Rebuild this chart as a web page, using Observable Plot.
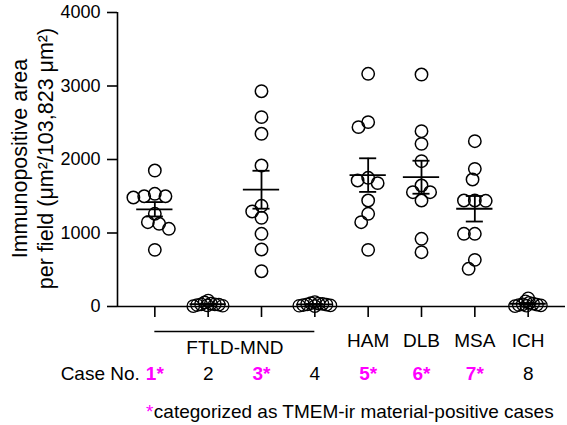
<!DOCTYPE html>
<html>
<head>
<meta charset="utf-8">
<script src="https://cdn.jsdelivr.net/npm/d3@7"></script>
<script src="https://cdn.jsdelivr.net/npm/@observablehq/plot@0.6"></script>
<style>
  html, body { margin: 0; padding: 0; background: #fff; }
</style>
</head>
<body>
<div id="chart"></div>
<script>
// ---- data ----
const cases = ["1", "2", "3", "4", "5", "6", "7", "8"];
const groupLabels = ["FTLD-MND", "FTLD-MND", "FTLD-MND", "FTLD-MND", "HAM", "DLB", "MSA", "ICH"];
const positiveCases = ["1", "3", "5", "6", "7"];
const case1 = [1850, 1533, 1500, 1500, 1483, 1261, 1147, 1125, 1057, 771];
const case2 = [80, 55, 40, 30, 30, 25, 20, 15, 10, 5];
const case3 = [2929, 2576, 2350, 1918, 1370, 1293, 1207, 989, 776, 480];
const case4 = [60, 45, 40, 35, 30, 25, 20, 15, 10, 5];
const case5 = [3166, 2508, 2440, 1751, 1714, 1678, 1442, 1261, 1147, 771];
const case6 = [3156, 2385, 2213, 1977, 1646, 1555, 1555, 1442, 921, 739];
const case7 = [2249, 1873, 1728, 1442, 1442, 1438, 989, 989, 635, 513];
const case8 = [110, 70, 50, 40, 30, 25, 20, 15, 10, 5];
const yTicks = [0, 1000, 2000, 3000, 4000];
const yLabel = "Immunopositive area\nper field (μm²/103,823 μm²)";
const caseNoLabel = "Case No.";
const footnote = "categorized as TMEM-ir material-positive cases";

// ---- derived tables ----
const series = [case1, case2, case3, case4, case5, case6, case7, case8];
const rows = cases.flatMap((c, i) => series[i].map(v => ({case: c, value: v})));
const isPos = c => positiveCases.includes(c);
const stats = cases.map((c, i) => {
  const v = series[i];
  const m = d3.mean(v);
  const se = d3.deviation(v) / Math.sqrt(v.length);
  return {case: c, mean: m, lo: m - se, hi: m + se};
});
const caseInfo = cases.map((c, i) => ({case: c, group: groupLabels[i], pos: isPos(c)}));
const ftldIdx = groupLabels.map((g, i) => g === "FTLD-MND" ? i : -1).filter(i => i >= 0);
const singleGroups = caseInfo.filter(d => d.group !== "FTLD-MND");

// ---- layout ----
const W = 567, H = 425;
const ml = 117, mr = 2, mt = 12, mb = 119;
const po = 0.2;
const step = (W - ml - mr) / (cases.length + 2 * po);
const frameLeft1 = ml + po * step;
const first = () => cases[0];
const font = "Arial, 'Liberation Sans', Helvetica, sans-serif";
const magenta = "#ff00ff";
const dotR = 6.2;
// near-zero groups overlap heavily: lay them out with a small dodge radius,
// but draw the same size ring
const clusterR = 2;
const bigRing = {
  draw(ctx, size) {
    const rr = Math.sqrt(size / Math.PI) * (dotR / clusterR);
    ctx.moveTo(rr, 0);
    ctx.arc(0, 0, rr, 0, 2 * Math.PI);
  }
};

const chart = Plot.plot({
  width: W,
  height: H,
  marginLeft: ml,
  marginRight: mr,
  marginTop: mt,
  marginBottom: mb,
  style: {fontFamily: font, color: "black", background: "white", overflow: "visible"},
  fx: {domain: cases, paddingInner: 0, paddingOuter: po, round: false, axis: null, label: null},
  x: {domain: [-0.5, 0.5], label: null},
  y: {domain: [0, 4000], label: null},
  marks: [
    // y axis line and x axis line (drawn once, from facet 1)
    Plot.ruleX([0], {fx: first, x: -0.5 - po, y1: 0, y2: 4000, strokeWidth: 1.6}),
    Plot.ruleY([0], {fx: first, y: 0, x1: -0.5 - po, x2: cases.length - 0.5 + po, strokeWidth: 1.6}),
    Plot.axisY({ticks: yTicks, tickSize: 10, tickPadding: 7, tickFormat: d3.format("d"),
      fontSize: 18, strokeWidth: 1.6, dx: -(po * step), label: null}),
    Plot.axisX({ticks: [0], tickSize: 11, tickFormat: () => "", strokeWidth: 1.6, label: null}),
    // y title
    Plot.text([yLabel], {fx: first, text: d => d, frameAnchor: "left", rotate: -90,
      textAnchor: "middle", lineAnchor: "bottom", lineHeight: 1.2, fontSize: 21.5,
      dx: 52 - frameLeft1, dy: -1}),
    // dots
    Plot.dot(rows.filter(d => isPos(d.case)), Plot.dodgeX({anchor: "middle", padding: -1.5},
      {fx: "case", y: "value", r: dotR, stroke: "black", strokeWidth: 1.5, fill: "none"})),
    Plot.dot(rows.filter(d => !isPos(d.case)), Plot.dodgeX({anchor: "middle", padding: 0},
      {fx: "case", y: "value", r: clusterR, symbol: bigRing, stroke: "black", strokeWidth: 1.3, fill: "none"})),
    // mean and SEM
    Plot.ruleY(stats, {fx: "case", y: "mean", x1: -0.34, x2: 0.34, strokeWidth: 1.8}),
    Plot.ruleY(stats, {fx: "case", y: "hi", x1: -0.16, x2: 0.16, strokeWidth: 1.8}),
    Plot.ruleY(stats, {fx: "case", y: "lo", x1: -0.16, x2: 0.16, strokeWidth: 1.8}),
    Plot.ruleX(stats, {fx: "case", x: 0, y1: "lo", y2: "hi", strokeWidth: 1.8}),
    // FTLD-MND bracket and label
    Plot.ruleY([0], {fx: first, y: 0, x1: ftldIdx[0], x2: ftldIdx[ftldIdx.length - 1], dy: 25, strokeWidth: 1.3}),
    Plot.text(["FTLD-MND"], {fx: first, text: d => d, x: (ftldIdx[0] + ftldIdx[ftldIdx.length - 1]) / 2,
      frameAnchor: "bottom", lineAnchor: "bottom", dy: 47, fontSize: 19}),
    // other group labels
    Plot.text(singleGroups, {fx: "case", text: "group", frameAnchor: "bottom", lineAnchor: "bottom", dy: 40, fontSize: 19}),
    // case numbers
    Plot.text([caseNoLabel], {fx: first, text: d => d, frameAnchor: "bottom", lineAnchor: "bottom",
      textAnchor: "end", dx: -15, dy: 73, fontSize: 19}),
    Plot.text(caseInfo.filter(d => d.pos), {fx: "case", text: d => d.case + "*", frameAnchor: "bottom",
      lineAnchor: "bottom", dy: 73, fontSize: 19, fontWeight: "bold", fill: magenta}),
    Plot.text(caseInfo.filter(d => !d.pos), {fx: "case", text: "case", frameAnchor: "bottom",
      lineAnchor: "bottom", dy: 73, fontSize: 19}),
    // footnote
    Plot.text(["*"], {fx: first, text: d => d, frameAnchor: "bottom", lineAnchor: "bottom",
      textAnchor: "end", dx: -1.5, dy: 111, fontSize: 19, fill: magenta}),
    Plot.text([footnote], {fx: first, text: d => d, frameAnchor: "bottom", lineAnchor: "bottom",
      textAnchor: "start", dx: -1, dy: 111, fontSize: 19})
  ]
});
document.getElementById("chart").appendChild(chart);
</script>
</body>
</html>
